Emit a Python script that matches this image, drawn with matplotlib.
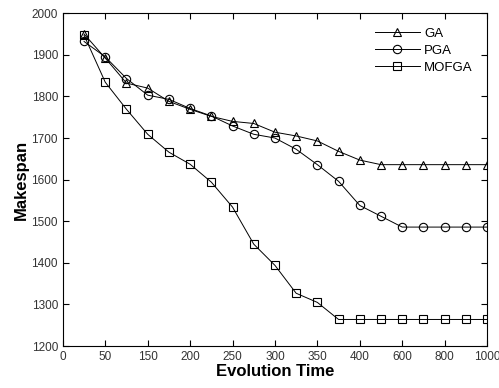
import numpy as np
import matplotlib
matplotlib.use('Agg')
import matplotlib.pyplot as plt

plt.rcParams['font.family'] = ['Liberation Sans', 'DejaVu Sans']

#--- data
steps = list(range(1, 21))
tick_pos = list(range(0, 21, 2))
tick_labels = ['0', '50', '150', '200', '250', '300', '350', '400', '600', '800', '1000']

ga = [1950, 1892, 1832, 1820, 1788, 1769, 1752, 1740, 1735, 1714,
      1705, 1693, 1668, 1647, 1636, 1636, 1636, 1636, 1636, 1636]
pga = [1932, 1895, 1843, 1803, 1793, 1771, 1753, 1729, 1709, 1700,
       1673, 1636, 1596, 1538, 1512, 1486, 1486, 1486, 1486, 1486]
mofga = [1947, 1834, 1769, 1709, 1666, 1637, 1594, 1534, 1445, 1394,
         1327, 1305, 1264, 1264, 1264, 1264, 1264, 1264, 1264, 1264]

#--- plot
fig = plt.figure(figsize=(4.99, 3.88), dpi=100)
ax = fig.add_axes([0.126, 0.108, 0.850, 0.858])

mk = dict(color='black', lw=0.7, mfc='none', mec='black', mew=0.8, ms=6)
ax.plot(steps, ga, marker='^', label='GA', **mk)
ax.plot(steps, pga, marker='o', label='PGA', **mk)
ax.plot(steps, mofga, marker='s', label='MOFGA', **mk)

ax.set_xlim(0, 20)
ax.set_ylim(1200, 2000)
ax.set_xticks(tick_pos)
ax.set_xticklabels(tick_labels)
ax.set_yticks(np.arange(1200, 2001, 100))
ax.tick_params(direction='in', top=True, right=True, labelsize=8.5,
               labelcolor='#333333', length=4, width=0.8)
for s in ax.spines.values():
    s.set_linewidth(0.8)

ax.set_xlabel('Evolution Time', fontsize=12, fontweight='bold', labelpad=1)
ax.set_ylabel('Makespan', fontsize=12, fontweight='bold', labelpad=2)

leg = ax.legend(loc='upper right', frameon=False, fontsize=9.5, handlelength=3.4,
                handletextpad=0.3, labelspacing=0.35, borderaxespad=0.7)

plt.savefig('out.png', dpi=100)
plt.close()
